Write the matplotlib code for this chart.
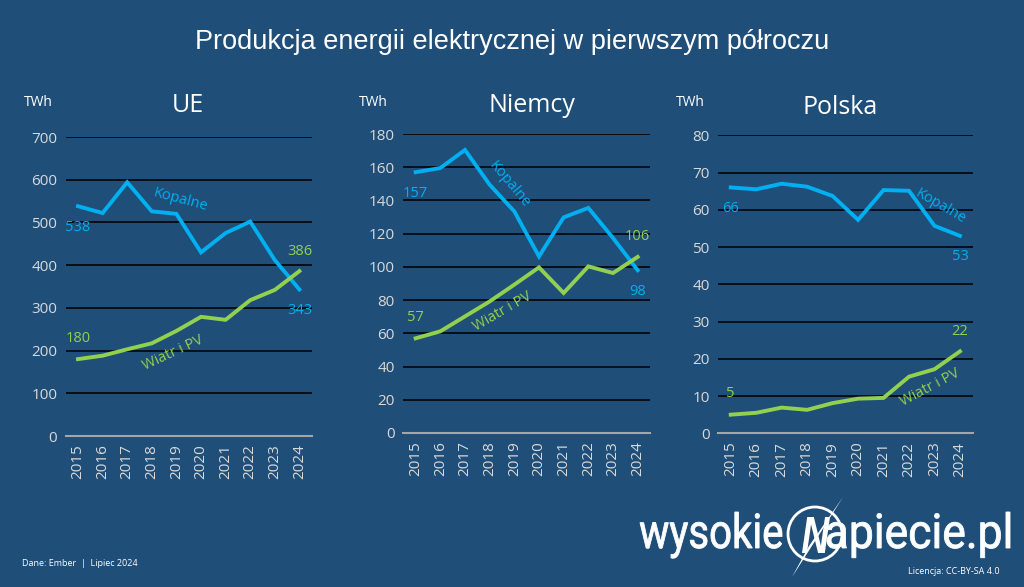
import matplotlib.pyplot as plt
from matplotlib.patches import Ellipse, Polygon, PathPatch
from matplotlib.textpath import TextPath
from matplotlib.font_manager import FontProperties
from matplotlib.transforms import Affine2D

# dane (TWh, pierwsze półrocze)
lata = ["2015", "2016", "2017", "2018", "2019", "2020", "2021", "2022", "2023", "2024"]

ue_kopalne = [538, 522, 594, 526, 520, 430, 475, 502, 412, 343]
ue_oze = [180, 188, 203, 217, 246, 279, 272, 318, 342, 386]

de_kopalne = [157, 159.5, 170.4, 149.5, 133.4, 106.3, 129.8, 135.5, 117.4, 98]
de_oze = [57, 61.2, 70.2, 79.2, 89.3, 99.7, 84.3, 100.3, 96.3, 106]

pl_kopalne = [66, 65.5, 67.0, 66.2, 63.7, 57.3, 65.3, 65.1, 55.7, 53]
pl_oze = [5, 5.5, 6.9, 6.3, 8.1, 9.3, 9.5, 15.2, 17.2, 22]

tytuly = ["UE", "Niemcy", "Polska"]

TLO = "#1f4e79"
NIEBIESKI = "#00b0f0"
ZIELONY = "#92d050"
JASNY = "#d9d9d9"
FONT = "Open Sans"
W, H = 1024, 587

fig = plt.figure(figsize=(10.24, 5.87), dpi=100, facecolor=TLO)

def px(x, y):
    # piksele (od lewego gornego rogu) -> ulamek figury
    return x / W, 1 - y / H

def napis_w_ramce(tekst, fp, x0, x1, y_base, wys, **kw):
    # tekst jako sciezka, przeskalowany do zadanej szerokosci i wysokosci (w pikselach)
    tp = TextPath((0, 0), tekst, size=50, prop=fp)
    bb = tp.get_extents()
    sx = (x1 - x0) / bb.width
    sy = wys / bb.ymax
    tr = Affine2D().translate(-bb.xmin, 0).scale(sx, sy).translate(x0, H - y_base)
    fig.add_artist(PathPatch(tp, transform=tr, **kw))

fig.text(*px(512, 42), "Produkcja energii elektrycznej w pierwszym półroczu",
         ha="center", va="center", color="white", fontsize=19.5, family="Liberation Sans")

panele = [
    dict(pos=[65.7, 137, 311.7, 436], ymax=700, krok=100, kop=ue_kopalne, oze=ue_oze,
         lab_k=(4.18, 553, -15), lab_o=(3.86, 194, 25), tyt=(188, 105), twh=(38, 103)),
    dict(pos=[403.3, 134, 650, 433], ymax=180, krok=20, kop=de_kopalne, oze=de_oze,
         lab_k=(3.79, 149.5, -50), lab_o=(3.51, 73.2, 30), tyt=(532, 105), twh=(373, 102)),
    dict(pos=[718, 135.3, 972.7, 433.3], ymax=80, krok=10, kop=pl_kopalne, oze=pl_oze,
         lab_k=(8.24, 60.8, -30), lab_o=(7.84, 12.2, 28), tyt=(840, 108), twh=(690, 102)),
]

for p, tytul in zip(panele, tytuly):
    x0, y0, x1, y1 = p["pos"]
    ax = fig.add_axes([x0 / W, 1 - y1 / H, (x1 - x0) / W, (y1 - y0) / H])
    ax.set_facecolor(TLO)
    x = range(len(lata))
    ax.plot(x, p["kop"], color=NIEBIESKI, lw=2.8, solid_joinstyle="miter", zorder=3)
    ax.plot(x, p["oze"], color=ZIELONY, lw=2.8, solid_joinstyle="miter", zorder=3)
    ax.set_xlim(-0.5, len(lata) - 0.5)
    ax.set_ylim(0, p["ymax"])
    ax.set_yticks(range(0, p["ymax"] + 1, p["krok"]))
    ax.set_xticks(list(x))
    ax.set_xticklabels(lata, rotation=90)
    ax.tick_params(colors=JASNY, labelsize=11, length=0, pad=6)
    for lab in ax.get_xticklabels() + ax.get_yticklabels():
        lab.set_family(FONT)
    ax.grid(axis="y", color="#050a10", lw=1.3)
    ax.set_axisbelow(True)
    for s in ["top", "right", "left"]:
        ax.spines[s].set_visible(False)
    ax.spines["bottom"].set_color("#a6a6a6")
    ax.spines["bottom"].set_linewidth(1.5)

    # wartosci na poczatku i koncu
    n = len(lata) - 1
    ax.annotate(f"{p['kop'][0]:.0f}", (0, p["kop"][0]), xytext=(0, -21), textcoords="offset pixels",
                ha="center", va="center", color=NIEBIESKI, fontsize=10.5, family=FONT)
    ax.annotate(f"{p['oze'][0]:.0f}", (0, p["oze"][0]), xytext=(0, 21), textcoords="offset pixels",
                ha="center", va="center", color=ZIELONY, fontsize=10.5, family=FONT)
    ax.annotate(f"{p['kop'][n]:.0f}", (n, p["kop"][n]), xytext=(0, -21), textcoords="offset pixels",
                ha="center", va="center", color=NIEBIESKI, fontsize=10.5, family=FONT)
    ax.annotate(f"{p['oze'][n]:.0f}", (n, p["oze"][n]), xytext=(0, 20), textcoords="offset pixels",
                ha="center", va="center", color=ZIELONY, fontsize=10.5, family=FONT)

    kx, ky, kr = p["lab_k"]
    ax.text(kx, ky, "Kopalne", rotation=kr, rotation_mode="anchor", ha="center", va="center",
            color=NIEBIESKI, fontsize=10.5, family=FONT)
    ox, oy, orot = p["lab_o"]
    ax.text(ox, oy, "Wiatr i PV", rotation=orot, rotation_mode="anchor", ha="center", va="center",
            color=ZIELONY, fontsize=10.5, family=FONT)

    fig.text(*px(*p["tyt"]), tytul, ha="center", va="center", color="white", fontsize=18, family=FONT)
    fig.text(*px(*p["twh"]), "TWh", ha="center", va="center", color="white", fontsize=10, family=FONT)

# stopka
fig.text(*px(22, 563), "Dane: Ember  |  Lipiec 2024", ha="left", va="center",
         color="white", fontsize=6.5, family=FONT)
fig.text(*px(1000, 571), "Licencja: CC-BY-SA 4.0", ha="right", va="center",
         color="white", fontsize=6.5, family=FONT)

# logo wysokienapiecie.pl
fp_logo = FontProperties(family="Roboto")
napis_w_ramce("wysokie", fp_logo, 640, 782, 548, 36, fc="white", ec="white", lw=0.6)
napis_w_ramce("apiecie.pl", fp_logo, 827, 1010, 548, 36, fc="white", ec="white", lw=0.6)
fig.add_artist(Ellipse(px(815, 534), 54 / W, 54 / H, transform=fig.transFigure,
                       fill=False, ec="white", lw=2.0))
fp_n = FontProperties(family="Liberation Sans", weight="bold", style="italic")
napis_w_ramce("N", fp_n, 802, 830, 553, 36, fc="white", ec="none")
fig.add_artist(Polygon([px(843, 497), px(826, 524), px(792, 577), px(809, 546)],
                       closed=True, transform=fig.transFigure, fc="white", ec="none"))

fig.savefig("out.png", dpi=100, facecolor=TLO)
